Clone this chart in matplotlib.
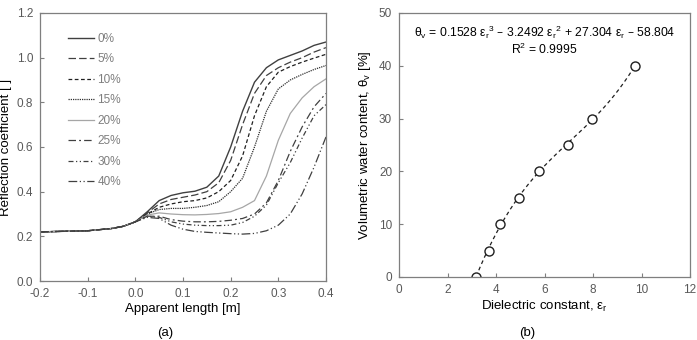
import numpy as np
import matplotlib
matplotlib.use("Agg")
import matplotlib.pyplot as plt

plt.rcParams["font.family"] = ["Liberation Sans", "DejaVu Sans"]

# ---- panel (a): reflection coefficient vs apparent length ----
length_m = [-0.2, -0.1, -0.05, -0.025, 0.0, 0.025, 0.05, 0.075, 0.1, 0.125, 0.15,
            0.175, 0.2, 0.225, 0.25, 0.275, 0.3, 0.325, 0.35, 0.375, 0.4]

refl_0 = [0.220, 0.225, 0.235, 0.245, 0.265, 0.310, 0.360, 0.383, 0.395, 0.402, 0.420,
          0.470, 0.600, 0.760, 0.890, 0.955, 0.990, 1.010, 1.030, 1.055, 1.070]
refl_5 = [0.220, 0.225, 0.235, 0.245, 0.265, 0.305, 0.345, 0.365, 0.375, 0.385, 0.400,
          0.440, 0.540, 0.700, 0.840, 0.920, 0.955, 0.980, 1.000, 1.025, 1.045]
refl_10 = [0.220, 0.225, 0.235, 0.245, 0.265, 0.300, 0.330, 0.345, 0.355, 0.360, 0.372,
           0.400, 0.450, 0.560, 0.740, 0.870, 0.935, 0.960, 0.980, 0.998, 1.015]
refl_15 = [0.220, 0.225, 0.235, 0.245, 0.265, 0.300, 0.320, 0.325, 0.325, 0.330, 0.338,
           0.355, 0.400, 0.460, 0.600, 0.760, 0.860, 0.900, 0.925, 0.947, 0.965]
refl_20 = [0.220, 0.225, 0.235, 0.245, 0.265, 0.295, 0.305, 0.300, 0.297, 0.296, 0.298,
           0.302, 0.310, 0.330, 0.360, 0.470, 0.630, 0.750, 0.820, 0.870, 0.905]
refl_25 = [0.220, 0.225, 0.235, 0.245, 0.265, 0.290, 0.290, 0.275, 0.268, 0.265, 0.265,
           0.267, 0.272, 0.280, 0.300, 0.350, 0.450, 0.580, 0.690, 0.780, 0.840]
refl_30 = [0.220, 0.225, 0.235, 0.245, 0.265, 0.290, 0.285, 0.265, 0.255, 0.250, 0.248,
           0.248, 0.250, 0.262, 0.290, 0.340, 0.440, 0.530, 0.640, 0.740, 0.790]
refl_40 = [0.220, 0.225, 0.235, 0.245, 0.265, 0.285, 0.280, 0.250, 0.232, 0.222, 0.218,
           0.215, 0.212, 0.210, 0.213, 0.225, 0.250, 0.300, 0.390, 0.510, 0.645]

legend_labels = ["0%", "5%", "10%", "15%", "20%", "25%", "30%", "40%"]

# ---- panel (b): calibration points ----
dielectric = [3.18, 3.70, 4.18, 4.95, 5.77, 6.98, 7.96, 9.73]
water_content = [0, 5, 10, 15, 20, 25, 30, 40]
poly_coef = [0.1528, -3.2492, 27.304, -58.804]

tick_grey = "#595959"
spine_grey = "#7f7f7f"

fig = plt.figure(figsize=(6.97, 3.4), dpi=100)
ax1 = fig.add_axes([0.0574, 0.1735, 0.4103, 0.7883])
ax2 = fig.add_axes([0.5725, 0.1853, 0.4175, 0.7765])

styles = [
    dict(color="#404040", linestyle="-", lw=1.0),
    dict(color="#404040", linestyle=(0, (6, 2.5)), lw=0.9),
    dict(color="#202020", linestyle=(0, (3, 2)), lw=0.9),
    dict(color="#303030", linestyle=(0, (1, 0.8)), lw=0.9),
    dict(color="#a6a6a6", linestyle="-", lw=0.9),
    dict(color="#404040", linestyle=(0, (6, 2.5, 1.5, 2.5)), lw=0.9),
    dict(color="#404040", linestyle=(0, (4, 2, 1, 2, 1, 2)), lw=0.9),
    dict(color="#404040", linestyle=(0, (7, 2, 1, 2, 1, 2)), lw=0.9),
]
series = [refl_0, refl_5, refl_10, refl_15, refl_20, refl_25, refl_30, refl_40]
for vals, lab, st in zip(series, legend_labels, styles):
    ax1.plot(length_m, vals, label=lab, **st)

ax1.set_xlim(-0.2, 0.4)
ax1.set_ylim(0, 1.2)
ax1.set_xticks(np.arange(-0.2, 0.41, 0.1))
ax1.set_yticks(np.arange(0, 1.21, 0.2))
ax1.set_xticklabels(["-0.2", "-0.1", "0.0", "0.1", "0.2", "0.3", "0.4"])
ax1.set_yticklabels(["0.0", "0.2", "0.4", "0.6", "0.8", "1.0", "1.2"])
ax1.set_xlabel("Apparent length [m]", fontsize=9.5, labelpad=2)
ax1.set_ylabel("Reflection coefficient [ ]", fontsize=9.5, labelpad=3)
leg = ax1.legend(loc="upper left", bbox_to_anchor=(0.06, 0.965), frameon=False,
                 fontsize=8.5, handlelength=2.2, handletextpad=0.3,
                 labelspacing=0.72)
for t in leg.get_texts():
    t.set_color("#7f7f7f")
ax1.text(0.437, -0.195, "(a)", transform=ax1.transAxes, ha="center", va="center",
         fontsize=9.5)

eps_fit = np.linspace(min(dielectric), max(dielectric), 200)
ax2.plot(eps_fit, np.polyval(poly_coef, eps_fit), color="#202020", lw=0.9,
         linestyle=(0, (3, 2.5)))
ax2.plot(dielectric, water_content, "o", markersize=6.5, markerfacecolor="white",
         markeredgecolor="#202020", markeredgewidth=1.0, linestyle="none")
ax2.set_xlim(0, 12)
ax2.set_ylim(0, 50)
ax2.set_xticks(range(0, 13, 2))
ax2.set_yticks(range(0, 51, 10))
ax2.set_xlabel("Dielectric constant, ε$_\\mathregular{r}$", fontsize=9.5, labelpad=2)
ax2.set_ylabel("Volumetric water content, θ$_\\mathregular{v}$ [%]", fontsize=9.5,
               labelpad=4)
ax2.text(0.5, 0.925,
         "θ$_\\mathregular{v}$ = 0.1528 ε$_\\mathregular{r}$$^\\mathregular{3}$ – 3.2492 "
         "ε$_\\mathregular{r}$$^\\mathregular{2}$ + 27.304 ε$_\\mathregular{r}$ – 58.804",
         transform=ax2.transAxes, ha="center", va="center", fontsize=8.7)
ax2.text(0.5, 0.862, "R$^\\mathregular{2}$ = 0.9995", transform=ax2.transAxes,
         ha="center", va="center", fontsize=8.7)
ax2.text(0.44, -0.212, "(b)", transform=ax2.transAxes, ha="center", va="center",
         fontsize=9.5)

for ax in (ax1, ax2):
    for sp in ax.spines.values():
        sp.set_color(spine_grey)
        sp.set_linewidth(0.9)
    ax.tick_params(direction="in", length=3, width=0.8, color=spine_grey,
                   labelcolor=tick_grey, labelsize=8.5, pad=5)

fig.savefig("out.png", dpi=100)
